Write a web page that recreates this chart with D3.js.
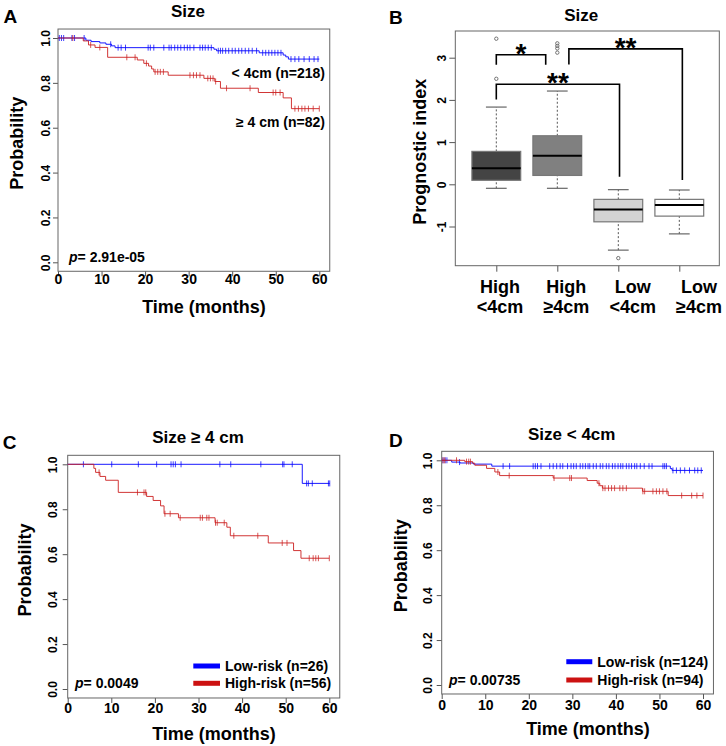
<!DOCTYPE html>
<html><head><meta charset="utf-8">
<script src="https://cdn.jsdelivr.net/npm/d3@7"></script>
<style>
body{margin:0;background:#fff}
svg{display:block}
text{font-family:"Liberation Sans",Arial,sans-serif;font-weight:bold;fill:#000}
</style>
</head><body>
<svg id="c" width="726" height="746"></svg>
<script>
// ---------------- DATA ----------------
const timeTicks=[0,10,20,30,40,50,60];
const probTicks=[0,0.2,0.4,0.6,0.8,1.0];

// Panel A : Size
const aSmallTime=[0,6.4,7.6,9.6,11,12.3,13.1,35.8,36.4,46.2,51.7,52.3,52.9];
const aSmallSurv=[1,0.99,0.984,0.978,0.972,0.965,0.957,0.95,0.943,0.934,0.924,0.916,0.906];
const aSmallCens=[0.3,0.8,1.3,3.2,3.8,6,12.1,13.8,14.5,15.5,20.7,21.2,22,24.3,25.5,26,26.8,27.5,28.2,29,29.7,30.3,31.2,32.6,33.2,33.8,34.5,35.2,36.8,37.3,37.8,38.5,39.2,40,40.7,41.5,42.2,43,43.8,44.6,45.6,47,47.7,48.4,49.1,49.8,50.5,51.2,53.5,54.4,55.3,56.5,57.7,58.8,59.7];
const aLargeTime=[0,5.8,7,8.5,11.4,18.2,19.7,20.8,21.5,22,25.3,33.5,36,37.3,46,51.7,53.6];
const aLargeSurv=[1,0.987,0.969,0.958,0.914,0.902,0.887,0.875,0.862,0.849,0.834,0.82,0.806,0.776,0.757,0.733,0.685];
const aLargeCens=[3.4,7.5,9.6,15.8,17.7,20.3,22.3,22.9,23.5,24.2,30.3,31.1,31.8,32.6,34.4,35,35.6,36.2,38.7,44.1,49.4,50,51,54.4,55.2,56,56.7,57.5,58.6,60];

// Panel B : prognostic index boxplots
const bCategories=["High <4cm","High ≥4cm","Low <4cm","Low ≥4cm"];
const bLine1=["High","High","Low","Low"];
const bLine2=["<4cm","≥4cm","<4cm","≥4cm"];
const bWhiskLow=[-0.095,-0.095,-1.56,-1.175];
const bQ1=[0.095,0.21,-0.889,-0.754];
const bMedian=[0.38,0.675,-0.595,-0.49];
const bQ3=[0.78,1.15,-0.357,-0.357];
const bWhiskHigh=[1.83,2.21,-0.127,-0.135];
const bOutliers=[[2.5,3.45],[3.12,3.22,3.28,3.34],[-1.75],[]];
const bFills=["#444444","#808080","#d3d3d3","#ffffff"];
const bTicks=[-1,0,1,2,3];
// significance brackets (category index units, value units)
const bBrackets=[
  {x1:1,x2:1.81,top:3.07,low1:2.83,low2:2.83,label:"*"},
  {x1:1,x2:3.02,top:2.37,low1:2.01,low2:0.18,label:"**"},
  {x1:2.19,x2:4.05,top:3.21,low1:2.84,low2:0.10,label:"**"}
];

// Panel C : Size >= 4 cm
const cLowTime=[0,53.8];
const cLowSurv=[1,0.915];
const cLowCens=[3.6,10.1,16.2,20.4,23.7,24.2,24.7,26,34.9,37.4,44.3,49.3,49.6,51.5,54.8,55.2,56.1,59.8,60.1];
const cHighTime=[0,6,6.4,7.4,8.7,11.6,18.1,19.6,21.3,22.1,25.4,33.8,36.5,37.3,46,51.8,53.5];
const cHighSurv=[1,0.982,0.964,0.946,0.929,0.875,0.857,0.839,0.815,0.78,0.762,0.74,0.72,0.682,0.65,0.616,0.582];
const cHighCens=[7.2,16,17.5,17.9,22.3,23.5,25.8,30.4,30.9,31.9,32.4,33.9,34.3,35.9,38.1,43.6,49.2,50.3,55.4,56.3,56.9,57.5,60];

// Panel D : Size < 4cm
const dLowTime=[0,2.3,4.2,7.3,11.5,52.5,52.9];
const dLowSurv=[1,0.992,0.988,0.983,0.974,0.963,0.955];
const dLowCens=[0.3,0.8,1.2,4.1,14.1,15.6,21,21.5,22,22.8,24.8,25.6,26.4,27.2,27.8,28.9,29.7,30.3,30.9,31.8,32.4,33,33.6,34,34.8,35.5,36.4,37,37.8,38.4,39.2,39.8,40.5,41.1,41.6,42.4,43,43.6,44.3,44.8,45.6,46.5,47.6,48.3,50.8,51.2,51.6,53.1,53.9,54.8,55.8,56.9,58.1,58.8,59.6];
const dHighTime=[0,5.3,7.1,7.6,10.3,12.2,13.3,25.6,33.4,35.7,36.3,36.9,46.1,52];
const dHighSurv=[1,0.994,0.987,0.978,0.964,0.948,0.932,0.921,0.91,0.898,0.887,0.876,0.862,0.843];
const dHighCens=[0.3,0.7,3.4,5.7,6.2,6.6,12.9,15.5,25.8,29.4,29.8,36.1,37,37.5,38.3,39,39.7,40.9,41.6,42.4,46.2,46.6,48.5,49.3,50,50.8,51.7,55.1,57.4,58.6,60];

const BLUE="#0000ff", RED="#cc2020";

// ---------------- DRAW ----------------
const svg=d3.select("#c");
const FONT='"Liberation Sans",Arial,sans-serif';

function survAt(time,surv,t){let v=surv[0];for(let i=0;i<time.length;i++){if(time[i]<=t)v=surv[i];}return v;}

function text(g,x,y,str,size,anchor,rot){
  const t=g.append("text").attr("font-size",size).attr("text-anchor",anchor||"start");
  if(rot) t.attr("transform",`translate(${x},${y}) rotate(${rot})`); else t.attr("x",x).attr("y",y);
  t.text(str); return t;
}

function kmPanel(P){
  const g=svg.append("g");
  const x=d3.scaleLinear().domain([0,60]).range([P.x0,P.x60]);
  const y=d3.scaleLinear().domain([0,1]).range([P.y0,P.y1]);
  const L=x(0),R=x(62.4),T=y(1.04),B=y(-0.04);
  // axes
  const xa=g.append("g").attr("transform",`translate(0,${B})`)
    .call(d3.axisBottom(x).tickValues(timeTicks).tickSize(5).tickSizeOuter(0));
  xa.select(".domain").remove();
  xa.selectAll("line").attr("stroke","#555");
  xa.selectAll("text").attr("font-size",14).attr("font-family",FONT).attr("font-weight","bold").attr("fill","#000").attr("dy",0).attr("y",P.xto);
  const ya=g.append("g").attr("transform",`translate(${L},0)`)
    .call(d3.axisLeft(y).tickValues(probTicks).tickFormat(d3.format(".1f")).tickSize(5).tickSizeOuter(0));
  ya.select(".domain").remove();
  ya.selectAll("line").attr("stroke","#555");
  ya.selectAll("text").attr("font-size",12).attr("font-family",FONT).attr("font-weight","bold").attr("fill","#000")
    .attr("x",null).attr("dy",null).attr("text-anchor","middle").attr("transform",`translate(${-P.yto},0) rotate(-90)`);
  g.append("rect").attr("x",L).attr("y",T).attr("width",R-L).attr("height",B-T).attr("fill","none").attr("stroke","#666").attr("stroke-width",1);
  // curves
  P.series.forEach(s=>{
    const end=Math.max(60,d3.max(s.cens));
    const pts=s.time.map((t,i)=>[t,s.surv[i]]);
    pts.push([end,s.surv[s.surv.length-1]]);
    g.append("path").attr("d",d3.line().x(d=>x(d[0])).y(d=>y(d[1])).curve(d3.curveStepAfter)(pts))
      .attr("fill","none").attr("stroke",s.color).attr("stroke-width",1).attr("opacity",0.9);
    g.selectAll(null).data(s.cens).enter().append("line")
      .attr("x1",d=>x(d)).attr("x2",d=>x(d))
      .attr("y1",d=>y(survAt(s.time,s.surv,d))-3).attr("y2",d=>y(survAt(s.time,s.surv,d))+3)
      .attr("stroke",s.color).attr("stroke-width",1).attr("opacity",0.75);
  });
  // texts
  text(g,P.titleX,P.titleY,P.title,17,"middle");
  text(g,P.letterX,P.letterY,P.letter,19,"start");
  text(g,P.ylabX,P.ylabY,"Probability",18,"middle",-90);
  text(g,P.xlabX,P.xlabY,"Time (months)",18,"middle");
  const pt=g.append("text").attr("x",P.pX).attr("y",P.pY).attr("font-size",14);
  pt.append("tspan").attr("font-style","italic").text("p");
  pt.append("tspan").text("= "+P.pval);
  return g;
}

// Panel A
const gA=kmPanel({x0:58,x60:319.3,y0:262.3,y1:38,xto:13,yto:8,
  title:"Size",titleX:188,titleY:16.5,letter:"A",letterX:3.5,letterY:22.7,
  ylabX:22.7,ylabY:143.3,xlabX:204,xlabY:313,pX:69,pY:261.5,pval:"2.91e-05",
  series:[{time:aSmallTime,surv:aSmallSurv,cens:aSmallCens,color:BLUE},{time:aLargeTime,surv:aLargeSurv,cens:aLargeCens,color:RED}]});
text(gA,325,77.5,"< 4cm (n=218)",14,"end");
text(gA,325,126.5,"≥ 4 cm (n=82)",14,"end");

// Panel C
const gC=kmPanel({x0:67.7,x60:329.3,y0:689,y1:464.3,xto:15,yto:11,
  title:"Size ≥ 4 cm",titleX:198,titleY:442.7,letter:"C",letterX:2.7,letterY:449.3,
  ylabX:31,ylabY:570,xlabX:214,xlabY:740,pX:75,pY:687.7,pval:"0.0049",
  series:[{time:cLowTime,surv:cLowSurv,cens:cLowCens,color:BLUE},{time:cHighTime,surv:cHighSurv,cens:cHighCens,color:RED}]});
// Panel D
const gD=kmPanel({x0:441.7,x60:703,y0:685,y1:460.3,xto:16,yto:10,
  title:"Size < 4cm",titleX:571.7,titleY:440,letter:"D",letterX:389,letterY:446.7,
  ylabX:407,ylabY:565.8,xlabX:588,xlabY:735,pX:449,pY:685,pval:"0.00735",
  series:[{time:dLowTime,surv:dLowSurv,cens:dLowCens,color:BLUE},{time:dHighTime,surv:dHighSurv,cens:dHighCens,color:RED}]});

// legends
function legend(g,x1,x2,tx,items){
  items.forEach(it=>{
    g.append("line").attr("x1",x1).attr("x2",x2).attr("y1",it.ly).attr("y2",it.ly).attr("stroke",it.color).attr("stroke-width",5);
    text(g,tx,it.ty,it.label,14,"start");
  });
}
legend(gC,193.3,220,225,[{ly:666,ty:670.7,color:"#0000ff",label:"Low-risk (n=26)"},{ly:683.3,ty:688.3,color:"#cc1111",label:"High-risk (n=56)"}]);
legend(gD,566.3,592.3,597.3,[{ly:661.7,ty:667.3,color:"#0000ff",label:"Low-risk (n=124)"},{ly:680,ty:685,color:"#cc1111",label:"High-risk (n=94)"}]);

// Panel B
(function(){
  const g=svg.append("g");
  const xi=d3.scaleLinear().domain([1,4]).range([496.3,679.3]);
  const y=d3.scaleLinear().domain([0,1]).range([184.3,142.1]);
  const L=xi(0.328),R=xi(4.656),T=31,B=265.7;
  const idx=bCategories.map((c,i)=>i+1);
  const xa=g.append("g").attr("transform",`translate(0,${B})`)
    .call(d3.axisBottom(xi).tickValues(idx).tickFormat("").tickSize(6).tickSizeOuter(0));
  xa.select(".domain").remove();
  xa.selectAll("line").attr("stroke","#555");
  const ya=g.append("g").attr("transform",`translate(${L},0)`)
    .call(d3.axisLeft(y).tickValues(bTicks).tickFormat(d=>String(d)).tickSize(6).tickSizeOuter(0));
  ya.select(".domain").remove();
  ya.selectAll("line").attr("stroke","#555");
  ya.selectAll("text").attr("font-size",12).attr("font-family",FONT).attr("font-weight","bold").attr("fill","#000")
    .attr("x",null).attr("dy",null).attr("text-anchor","middle").attr("transform","translate(-9,0) rotate(-90)");
  g.append("rect").attr("x",L).attr("y",T).attr("width",R-L).attr("height",B-T).attr("fill","none").attr("stroke","#666");
  const hw=xi(1.4)-xi(1), cw=xi(1.17)-xi(1);
  idx.forEach((k,i)=>{
    const cx=xi(k);
    g.append("line").attr("x1",cx).attr("x2",cx).attr("y1",y(bWhiskLow[i])).attr("y2",y(bQ1[i])).attr("stroke","#555").attr("stroke-dasharray","2,2");
    g.append("line").attr("x1",cx).attr("x2",cx).attr("y1",y(bQ3[i])).attr("y2",y(bWhiskHigh[i])).attr("stroke","#555").attr("stroke-dasharray","2,2");
    [bWhiskLow[i],bWhiskHigh[i]].forEach(v=>g.append("line").attr("x1",cx-cw).attr("x2",cx+cw).attr("y1",y(v)).attr("y2",y(v)).attr("stroke","#666").attr("stroke-width",1.2));
    g.append("rect").attr("x",cx-hw).attr("y",y(bQ3[i])).attr("width",2*hw).attr("height",y(bQ1[i])-y(bQ3[i]))
      .attr("fill",bFills[i]).attr("stroke","#777").attr("stroke-width",1.2);
    g.append("line").attr("x1",cx-hw).attr("x2",cx+hw).attr("y1",y(bMedian[i])).attr("y2",y(bMedian[i])).attr("stroke","#000").attr("stroke-width",2);
    bOutliers[i].forEach(v=>g.append("circle").attr("cx",cx).attr("cy",y(v)).attr("r",1.7).attr("fill","none").attr("stroke","#666").attr("stroke-width",0.9));
  });
  // brackets
  bBrackets.forEach(b=>{
    g.append("path").attr("d",`M${xi(b.x1)},${y(b.low1)}V${y(b.top)}H${xi(b.x2)}V${y(b.low2)}`)
      .attr("fill","none").attr("stroke","#000").attr("stroke-width",1.6);
    text(g,(xi(b.x1)+xi(b.x2))/2,y(b.top)+8,b.label,28,"middle");
  });
  // category labels
  const lx=d3.scalePoint().domain(bCategories).range([500,699]);
  bCategories.forEach((c,i)=>{
    text(g,lx(c),292.5,bLine1[i],18,"middle");
    text(g,lx(c),312.5,bLine2[i],18,"middle");
  });
  text(g,426.3,151.7,"Prognostic index",18,"middle",-90);
  text(g,581.3,20.7,"Size",17,"middle");
  text(g,389,24,"B",19,"start");
})();
</script>
</body></html>
